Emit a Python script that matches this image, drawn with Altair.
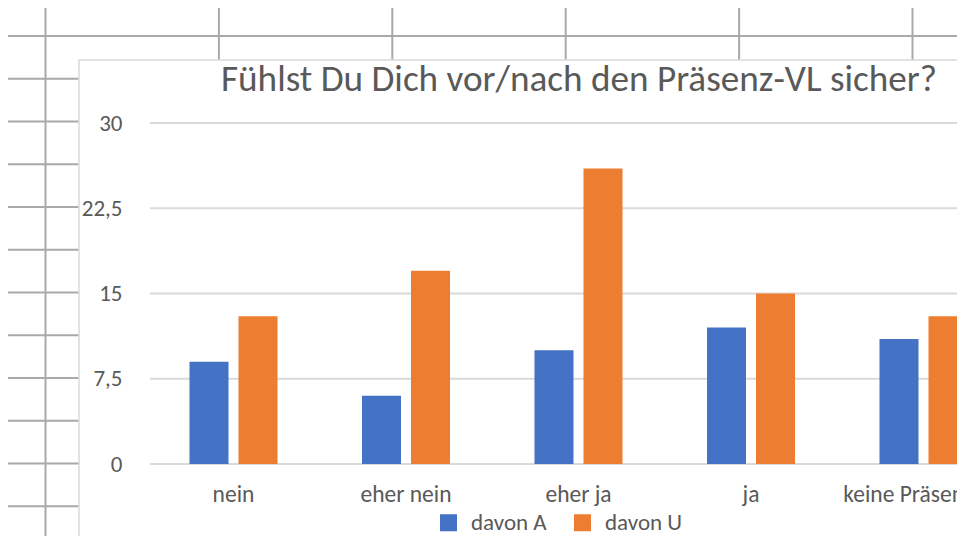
import altair as alt
import pandas as pd

# ---- data ----
categories = ["nein", "eher nein", "eher ja", "ja", "keine Präsenz-VL"]
series = ["davon A", "davon U"]
davon_A = [9, 6, 10, 12, 11]
davon_U = [13, 17, 26, 15, 13]
y_ticks = [0, 7.5, 15, 22.5, 30]
title_text = "Fühlst Du Dich vor/nach den Präsenz-VL sicher?"

rows = []
for c, a, u in zip(categories, davon_A, davon_U):
    rows.append({"cat": c, "series": series[0], "value": a})
    rows.append({"cat": c, "series": series[1], "value": u})
df = pd.DataFrame(rows)

# ---- layout / style ----
W, H = 807, 341
PAD_L, PAD_T, PAD_B = 142, 115, 72
OX, OY = PAD_L + 8, PAD_T + 8          # page position of plot origin
FONT = "Carlito, Lato, sans-serif"
TEXT = "#595959"
SHEET = "#a9a9a9"
LIGHT = "#d9d9d9"
BLUE, ORANGE = "#4472C4", "#ED7D31"

one = pd.DataFrame({"d": [0]})

# spreadsheet cell grid behind the chart object (decoration)
sheet_layers = []
for k in range(13):
    yy = 36 + 42.75 * k - OY
    sheet_layers.append(
        alt.Chart(one).mark_rule(color=SHEET, strokeWidth=2).encode(
            x=alt.value(-OX), x2=alt.value(W + 20), y=alt.value(yy)
        )
    )
for k in range(6):
    xx = 45.5 + 173.4 * k - OX
    sheet_layers.append(
        alt.Chart(one).mark_rule(color=SHEET, strokeWidth=2).encode(
            x=alt.value(xx), y=alt.value(-OY), y2=alt.value(H + PAD_B + 10)
        )
    )

# chart object frame
frame = alt.Chart(one).mark_rect(fill="white", stroke=LIGHT, strokeWidth=1.5).encode(
    x=alt.value(79 - OX), x2=alt.value(W + 40),
    y=alt.value(60 - OY), y2=alt.value(540 - OY),
)

y_enc = alt.Y(
    "value:Q",
    scale=alt.Scale(domain=[0, 30], nice=False, zero=True),
    axis=alt.Axis(
        values=y_ticks, title=None, grid=False, domain=False, ticks=False, tickSize=0,
        labelPadding=28, labelFont=FONT, labelFontSize=23, labelColor=TEXT,
        labelExpr="replace(toString(datum.value), '.', ',')", zindex=1,
    ),
)

grid = alt.Chart(pd.DataFrame({"value": y_ticks})).mark_rule(
    color=LIGHT, strokeWidth=2
).encode(y=y_enc, x=alt.value(0), x2=alt.value(W + 20))

step = 172.5
first_center = 233.5 - OX
bars = alt.Chart(df).mark_bar().encode(
    x=alt.X(
        "cat:N", sort=categories,
        scale=alt.Scale(range=[first_center - step / 2, first_center - step / 2 + step * 5],
                        paddingInner=0, paddingOuter=0),
        axis=alt.Axis(
            title=None, domain=False, ticks=False, tickSize=0, grid=False,
            labelAngle=0, labelPadding=37, labelBaseline="alphabetic",
            labelFont=FONT, labelFontSize=23.5, labelColor=TEXT,
            labelLimit=400, labelOverlap=False, zindex=1,
        ),
    ),
    xOffset=alt.XOffset("series:N", sort=series,
                        scale=alt.Scale(paddingInner=0.204, paddingOuter=0.862)),
    y=y_enc,
    color=alt.Color(
        "series:N", sort=series,
        scale=alt.Scale(domain=series, range=[BLUE, ORANGE]),
        legend=alt.Legend(
            title=None, orient="none", direction="horizontal",
            legendX=437 - OX, legendY=388,
            symbolType="square", symbolSize=289, symbolStrokeWidth=0,
            labelFont=FONT, labelFontSize=23, labelColor=TEXT,
            labelOffset=11, columnPadding=24, padding=0, zindex=1,
        ),
    ),
)

title = alt.Chart(pd.DataFrame({"t": [title_text]})).mark_text(
    font=FONT, fontSize=37.2, color=TEXT, align="center", baseline="alphabetic"
).encode(text="t:N", x=alt.value(579 - OX), y=alt.value(91 - OY))

chart = alt.layer(*sheet_layers, frame, grid, bars, title).properties(
    width=W, height=H,
    autosize=alt.AutoSizeParams(type="none"),
    padding={"left": PAD_L, "top": PAD_T, "right": 0, "bottom": PAD_B},
    background="white",
).configure_view(stroke=None)

chart.save("out.html", embed_options={"renderer": "svg", "actions": False})
